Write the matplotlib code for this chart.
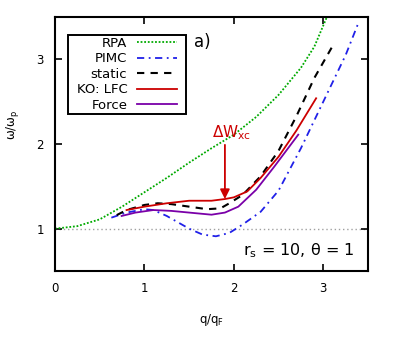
#!/usr/bin/env python3
# coding: utf-8

import matplotlib
matplotlib.use("Agg")
import matplotlib.pyplot as plt
from matplotlib.patches import Rectangle

plt.rcParams["mathtext.default"] = "regular"

# dispersion curves, omega/omega_p vs q/q_F
q_rpa = [0.0, 0.25, 0.5, 0.75, 1.0, 1.25, 1.5, 1.75, 2.0, 2.25, 2.5, 2.75, 2.9, 3.04]
w_rpa = [1.0, 1.03, 1.11, 1.26, 1.43, 1.60, 1.78, 1.95, 2.11, 2.32, 2.58, 2.90, 3.15, 3.5]

q_pimc = [0.63, 0.8, 1.0, 1.1, 1.25, 1.5, 1.65, 1.8, 1.95, 2.1, 2.3, 2.5, 2.75, 3.0, 3.25, 3.4]
w_pimc = [1.13, 1.19, 1.23, 1.22, 1.15, 1.00, 0.93, 0.91, 0.95, 1.05, 1.20, 1.45, 1.95, 2.50, 3.05, 3.45]

q_static = [0.69, 0.8, 1.0, 1.15, 1.3, 1.5, 1.7, 1.85, 1.95, 2.1, 2.3, 2.5, 2.7, 2.9, 3.1]
w_static = [1.16, 1.22, 1.28, 1.30, 1.29, 1.26, 1.23, 1.24, 1.30, 1.40, 1.62, 1.92, 2.33, 2.78, 3.15]

q_ko = [0.8, 1.0, 1.25, 1.5, 1.75, 1.9, 2.0, 2.15, 2.3, 2.5, 2.7, 2.92]
w_ko = [1.22, 1.26, 1.30, 1.33, 1.33, 1.35, 1.37, 1.44, 1.60, 1.85, 2.16, 2.54]

q_force = [0.745, 0.9, 1.1, 1.3, 1.5, 1.75, 1.9, 2.05, 2.25, 2.45, 2.72]
w_force = [1.15, 1.19, 1.22, 1.21, 1.19, 1.165, 1.19, 1.26, 1.46, 1.73, 2.11]

# arrow for the xc shift
arrow_q = 1.9
arrow_top = 1.99
arrow_tip = 1.35


def main():
    fig = plt.figure(figsize=(3.95, 3.38), dpi=100)
    ax = fig.add_axes([55 / 395, 1 - 271 / 338, 313 / 395, 254 / 338])

    ax.axhline(1.0, color="#a0a0a0", lw=1.0, ls=(0, (1, 2)), zorder=1)

    ax.plot(q_rpa, w_rpa, color="#00aa00", lw=1.3, ls=(0, (1, 1)), label="RPA")
    ax.plot(q_pimc, w_pimc, color="#2020e8", lw=1.3, ls=(0, (4, 2.5, 1, 2.5)), label="PIMC")
    ax.plot(q_static, w_static, color="black", lw=1.5, ls=(0, (3.5, 3)), label="static")
    ax.plot(q_ko, w_ko, color="#cc0000", lw=1.3, label="KO: LFC")
    ax.plot(q_force, w_force, color="#7a00a8", lw=1.3, label="Force")

    ax.annotate("", xy=(arrow_q, arrow_tip), xytext=(arrow_q, arrow_top),
                arrowprops=dict(arrowstyle="-|>", color="#cc0000", lw=1.3,
                                mutation_scale=14, shrinkA=0, shrinkB=0))
    ax.text(1.97, 2.13, r"$\Delta$W$_{\rm xc}$", color="#cc0000", fontsize=11,
            ha="center", va="center")

    ax.text(1.55, 3.2, "a)", fontsize=12, ha="left", va="center")
    ax.text(3.35, 0.69, r"r$_{\rm s}$ = 10, $\theta$ = 1", fontsize=11.5,
            ha="right", va="baseline")

    ax.set_xlim(0, 3.5)
    ax.set_ylim(0.5, 3.5)
    ax.set_xticks([0, 1, 2, 3])
    ax.set_yticks([1, 2, 3])
    ax.tick_params(direction="in", length=5, width=1.2, top=True, right=True,
                   labelsize=8.5, pad=8)
    for s in ax.spines.values():
        s.set_linewidth(1.5)

    ax.set_xlabel(r"q/q$_{\rm F}$", fontsize=8.5)
    ax.xaxis.set_label_coords(0.5, -0.16)
    ax.set_ylabel(r"$\omega$/$\omega_{\rm p}$", fontsize=8.5)
    ax.yaxis.set_label_coords(-0.11, 0.575)

    # legend without its own frame; the box is drawn by hand (wide sides, tight top/bottom)
    leg = ax.legend(loc="upper left", bbox_to_anchor=(0.069, 0.922), borderaxespad=0,
                    markerfirst=False, fontsize=9.5, handlelength=3.1, frameon=False,
                    labelspacing=0.19, borderpad=0, handletextpad=0.7)
    leg.set_zorder(5)
    fig.canvas.draw()
    bb = leg.get_window_extent(fig.canvas.get_renderer())
    padx, pady = 9, 2.2
    frame = Rectangle((bb.x0 - padx, bb.y0 - pady), bb.width + 2 * padx, bb.height + 2 * pady,
                      transform=None, facecolor="white", edgecolor="black",
                      lw=1.4, zorder=4, clip_on=False)
    ax.add_artist(frame)

    fig.savefig("out.png", dpi=100)


if __name__ == "__main__":
    main()
